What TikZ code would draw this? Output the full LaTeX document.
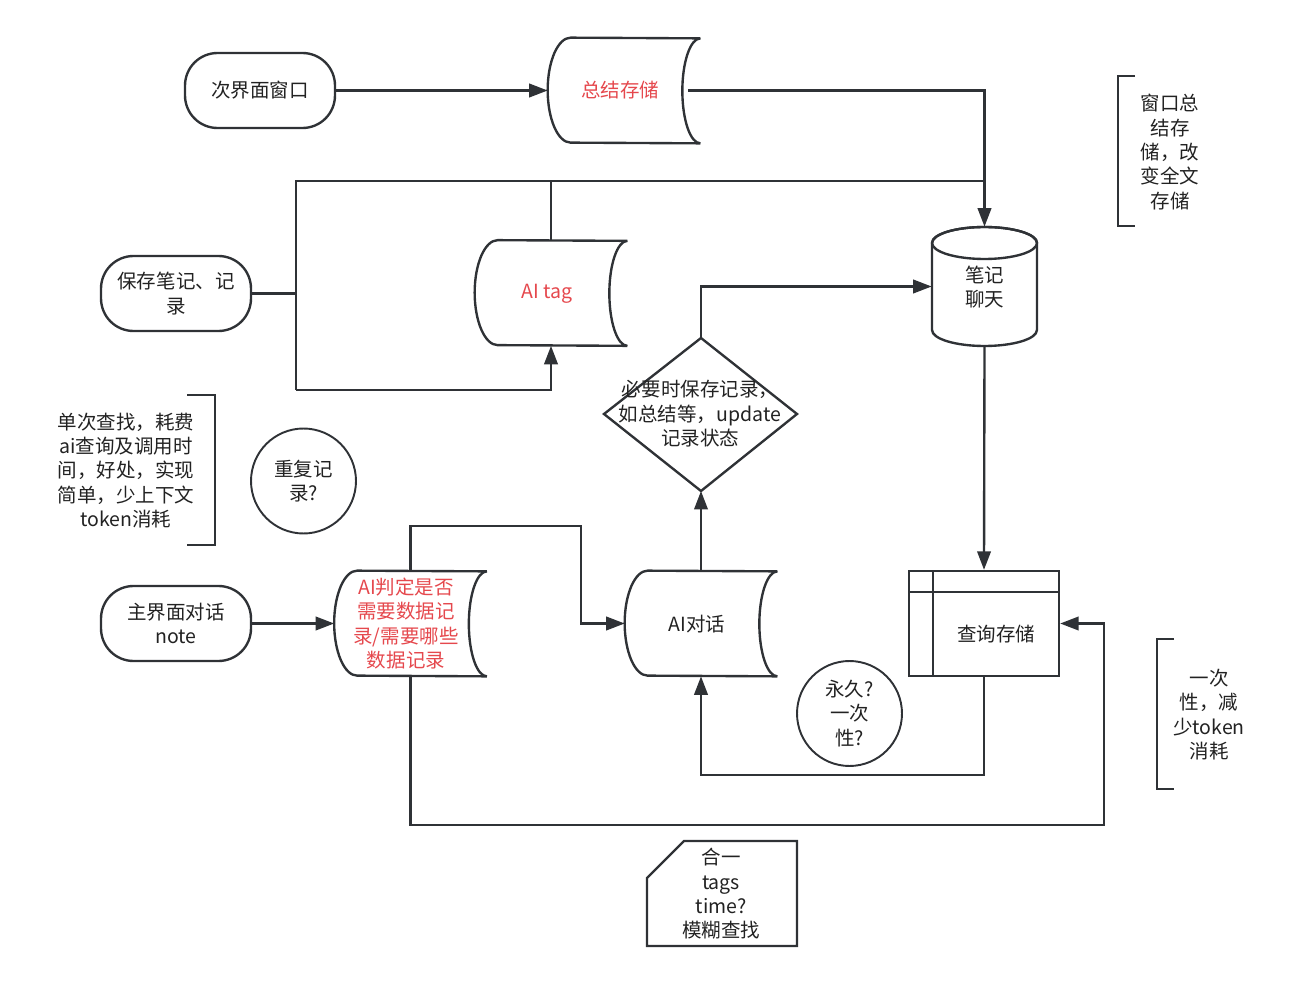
\documentclass[tikz,border=0pt]{standalone}
\usepackage{fontspec}
\setmainfont{Noto Sans CJK SC}
\usetikzlibrary{arrows.meta,calc}
\definecolor{ln}{HTML}{2F3236}
\definecolor{tx}{HTML}{222222}
\definecolor{rd}{HTML}{E5484D}
\newcommand{\sdshape}[1]{\draw[line, line join=bevel] ([xshift=0.46cm]#1.north west) arc[start angle=90,end angle=270,x radius=0.46cm,y radius=1.05cm] -- (#1.south east) arc[start angle=270,end angle=90,x radius=0.36cm,y radius=1.05cm] -- cycle;}
\begin{document}
\begin{tikzpicture}[x=0.02cm,y=-0.02cm,
  every node/.style={font=\fontsize{11.1pt}{13.9pt}\selectfont, text=tx, align=center, inner sep=0pt},
  line/.style={draw=ln, line width=1.35pt},
  arr/.style={line, -{Triangle[length=3.7mm,width=2.7mm]}},
  term/.style={draw=ln, line width=1.35pt, rounded corners=0.65cm, minimum width=3cm, minimum height=1.5cm},
  sbox/.style={minimum width=3.04cm, minimum height=2.1cm},
  redt/.style={text=rd},
  circ/.style={draw=ln, line width=1.1pt, circle, minimum size=2.1cm}
]
\useasboundingbox (0,0) rectangle (1299,983);

% terminals
\node[term] (win) at (260,90.5) {次界面窗口};
\node[term] (save) at (176,293.5) {保存笔记、记\\录};
\node[term] (main) at (176,623.5) {主界面对话\\note};

% stored data shapes
\node[sbox] (sum) at (624,90.5) {};
\sdshape{sum}
\node[redt] (sumt) at (620,90.5) {总结存储};
\node[sbox] (tag) at (551,293) {};
\sdshape{tag}
\node[redt] (tagt) at (547,294) {AI tag};
\node[sbox] (judge) at (410.5,623.5) {};
\sdshape{judge}
\node[redt] (judget) at (406,623.5) {AI判定是否\\需要数据记\\录/需要哪些\\数据记录};
\node[sbox] (chat) at (701,623.5) {};
\sdshape{chat}
\node (chatt) at (697,624) {AI对话};

% cylinder
\node[minimum width=2.1cm, minimum height=2.38cm] (nc) at (984.5,286.5) {};
\draw[line] (932,243) -- (932,330) arc[start angle=180,end angle=360,x radius=1.05cm,y radius=0.32cm] -- (1037,243) arc[start angle=0,end angle=180,x radius=1.05cm,y radius=0.32cm];
\draw[line] (984.5,243) ellipse[x radius=1.05cm,y radius=0.32cm];
\node (nct) at (984.5,287) {笔记\\聊天};

% diamond
\coordinate (diaT) at (701,338);
\coordinate (diaR) at (797,414);
\coordinate (diaB) at (701,491);
\coordinate (diaL) at (604,414);
\draw[line] (diaT) -- (diaR) -- (diaB) -- (diaL) -- cycle;
\node (dia) at (700,414) {必要时保存记录，\\如总结等，update\\记录状态};

% internal storage
\node[draw=ln, line width=1.35pt, minimum width=3cm, minimum height=2.1cm] (q) at (984,623.5) {};
\draw[line] (909,592) -- (1059,592);
\draw[line] (933,571) -- (933,676);
\node (qt) at (996,634) {查询存储};

% card
\draw[line] (647,878) -- (684,841) -- (797,841) -- (797,946) -- (647,946) -- cycle;
\node (card) at (721,894) {合一\\tags\\time?\\模糊查找};

% circles
\node[circ] (rep) at (303.5,481) {重复记\\录?};
\node[circ] (perm) at (849.5,713.5) {永久?\\一次\\性?};

% annotations
\draw[line] (187,395) -- (215,395) -- (215,545) -- (187,545);
\node (noteL) at (126,470.5) {单次查找，耗费\\ai查询及调用时\\间，好处，实现\\简单，少上下文\\token消耗};
\draw[line] (1135,76) -- (1118,76) -- (1118,226) -- (1135,226);
\node (noteR1) at (1170,152) {窗口总\\结存\\储，改\\变全文\\存储};
\draw[line] (1174,639) -- (1157,639) -- (1157,789) -- (1174,789);
\node (noteR2) at (1209,714.5) {一次\\性，减\\少token\\消耗};

% junction coordinates
\coordinate (j1) at (296,181);
\coordinate (j2) at (296,390);
\coordinate (low1) at (984,775);
\coordinate (k1) at (410.5,526);
\coordinate (k2) at (581,526);
\coordinate (m1) at (410.5,825);
\coordinate (m2) at (1104,825);

% connectors
\draw[arr] (win.east) -- (sum.west);
\draw[arr] ([xshift=-0.24cm]sum.east) -| (nc.north);
\draw[line] (save.east) -- (save.east -| j1);
\draw[line] (j2) -- (j1) -- (j1 -| nc.north);
\draw[arr] (j2) -| (tag.south);
\draw[line] (tag.north) -- (tag.north |- j1);
\draw[arr] (diaT) |- (nc.west);
\draw[arr] (chat.north) -- (diaB);
\draw[arr] (nc.south) -- (q.north);
\draw[arr] (q.south) -- (low1) -| (chat.south);
\draw[arr] (main.east) -- (judge.west);
\draw[arr] (judge.north) -- (k1) -- (k2) -- (k2 |- chat.west) -- (chat.west);
\draw[arr] (judge.south) -- (m1) -- (m2) |- (q.east);
\end{tikzpicture}
\end{document}
